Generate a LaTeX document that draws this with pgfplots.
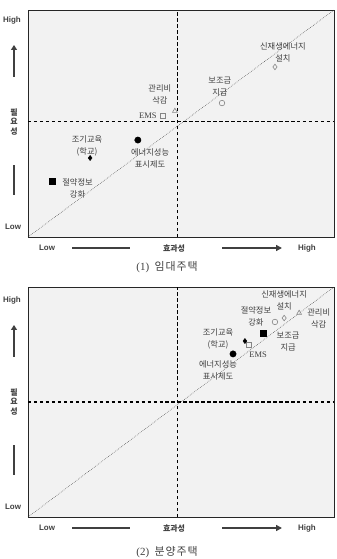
\documentclass[border=0pt]{standalone}
\usepackage{pgfplots}
\pgfplotsset{compat=1.18}
\usepackage{fontspec}
\setmainfont{Liberation Serif}
\newfontfamily\kr{Noto Sans CJK KR}
\newfontfamily\krcap[LetterSpace=8]{Noto Sans CJK KR}
\newfontfamily\sansf{Liberation Sans}
\usetikzlibrary{arrows.meta}
\definecolor{bgc}{HTML}{F2F2F2}
\definecolor{txt}{HTML}{404040}
\definecolor{opn}{HTML}{858585}
\tikzset{
  lab/.style={font=\kr\fontsize{8.3}{12}\selectfont, text=txt, align=center, inner sep=0pt},
  ems/.style={font=\fontsize{8.5}{9}\selectfont, text=txt, inner sep=0pt},
}
\begin{document}
\begin{tikzpicture}
\pgfplotsset{
  quad/.style={
    anchor=south west, scale only axis, width=306bp,
    xmin=0,xmax=10,ymin=0,ymax=10, xtick=\empty, ytick=\empty,
    axis background/.style={fill=bgc},
    axis line style={black!85, line width=0.9pt},
    clip=false,
  },
  dsh/.style={black, line width=1.1pt, dash pattern=on 3.5pt off 2.5pt, forget plot},
  dia/.style={black!75, line width=0.5pt, dash pattern=on 0.6pt off 1.2pt, forget plot},
  opm/.style={only marks, mark options={draw=opn, fill=none, line width=0.6pt}, mark size=2.8},
  flm/.style={only marks, mark options={draw=black, fill=black}},
}
% ---------- Panel 1 ----------
\begin{axis}[quad, at={(28bp,322bp)}, height=227bp]
\addplot[dia] coordinates {(0,0) (10,10)};
\addplot[dsh] coordinates {(4.9,0) (4.9,10)};
\addplot[dsh] coordinates {(0,5.07) (10,5.07)};
\addplot[opm, mark=diamond] coordinates {(8.07,7.49)};
\addplot[opm, mark=o] coordinates {(6.34,5.90)};
\addplot[opm, mark=triangle] coordinates {(4.80,5.55)};
\addplot[opm, mark=square, mark size=2.6] coordinates {(4.41,5.33)};
\addplot[flm, mark=diamond*, mark size=2.6] coordinates {(2.03,3.48)};
\addplot[flm, mark=*, mark size=3.2] coordinates {(3.59,4.27)};
\addplot[flm, mark=square*, mark size=3.1] coordinates {(0.78,2.47)};
\node[lab] at (axis cs:8.33,8.15) {신재생에너지\\설치};
\node[lab] at (axis cs:6.27,6.61) {보조금\\지급};
\node[lab] at (axis cs:4.31,6.30) {관리비\\삭감};
\node[ems] at (axis cs:3.92,5.33) {EMS};
\node[lab] at (axis cs:1.93,4.01) {조기교육\\(학교)};
\node[lab] at (axis cs:3.99,3.48) {에너지성능\\표시제도};
\node[lab] at (axis cs:1.62,2.16) {절약정보\\강화};
\end{axis}
% ---------- Panel 2 ----------
\begin{axis}[quad, at={(28bp,42bp)}, height=230bp]
\addplot[dia] coordinates {(0,0) (10,10)};
\addplot[dsh] coordinates {(4.9,0) (4.9,10)};
\addplot[dsh] coordinates {(0,5.0) (10,5.0)};
\addplot[opm, mark=diamond] coordinates {(8.37,8.65)};
\addplot[opm, mark=o] coordinates {(8.07,8.48)};
\addplot[opm, mark=triangle] coordinates {(8.86,8.87)};
\addplot[opm, mark=square, mark size=2.6] coordinates {(7.22,7.48)};
\addplot[flm, mark=diamond*, mark size=2.6] coordinates {(7.09,7.65)};
\addplot[flm, mark=*, mark size=3.2] coordinates {(6.70,7.09)};
\addplot[flm, mark=square*, mark size=3.1] coordinates {(7.68,8.00)};
\node[lab] at (axis cs:8.37,9.43) {신재생에너지\\설치};
\node[lab] at (axis cs:7.45,8.74) {절약정보\\강화};
\node[lab] at (axis cs:9.50,8.65) {관리비\\삭감};
\node[lab] at (axis cs:6.21,7.74) {조기교육\\(학교)};
\node[lab] at (axis cs:8.50,7.61) {보조금\\지급};
\node[ems] at (axis cs:7.52,7.04) {EMS};
\node[lab] at (axis cs:6.21,6.39) {에너지성능\\표시제도};
\end{axis}
% ---------- outer decorations ----------
\begin{scope}[x=1bp,y=1bp]
\tikzset{
  hl/.style={font=\sansf\bfseries\fontsize{8}{9}\selectfont, text=txt, inner sep=0pt},
  kl/.style={font=\kr\bfseries\fontsize{8}{10}\selectfont, text=txt, inner sep=0pt, align=center},
  bar/.style={txt, line width=1.6pt},
}
\foreach \dy in {0,-280} {
  \begin{scope}[shift={(0,\dy)}]
  \node[hl] at (12,539) {High};
  \draw[bar, -{Triangle[length=5pt,width=6pt]}] (14,482) -- (14,514);
  \node[kl] at (14,437) {필\\요\\성};
  \draw[bar] (14,364) -- (14,394);
  \node[hl] at (13,332) {Low};
  \node[hl] at (47,311) {Low};
  \draw[bar] (72,311) -- (130,311);
  \node[kl] at (174,310.5) {효과성};
  \draw[bar, -{Triangle[length=6pt,width=6pt]}] (222,311) -- (282,311);
  \node[hl] at (307,311) {High};
  \end{scope}
}
\node[font=\fontsize{11}{12}\selectfont, text=txt, inner sep=0pt] at (167,292) {(1)\ \ {\krcap 임대주택}};
\node[font=\fontsize{11}{12}\selectfont, text=txt, inner sep=0pt] at (167,7) {(2)\ \ {\krcap 분양주택}};
\pgfresetboundingbox
\useasboundingbox (0,0) rectangle (336,559);
\end{scope}
\end{tikzpicture}
\end{document}
